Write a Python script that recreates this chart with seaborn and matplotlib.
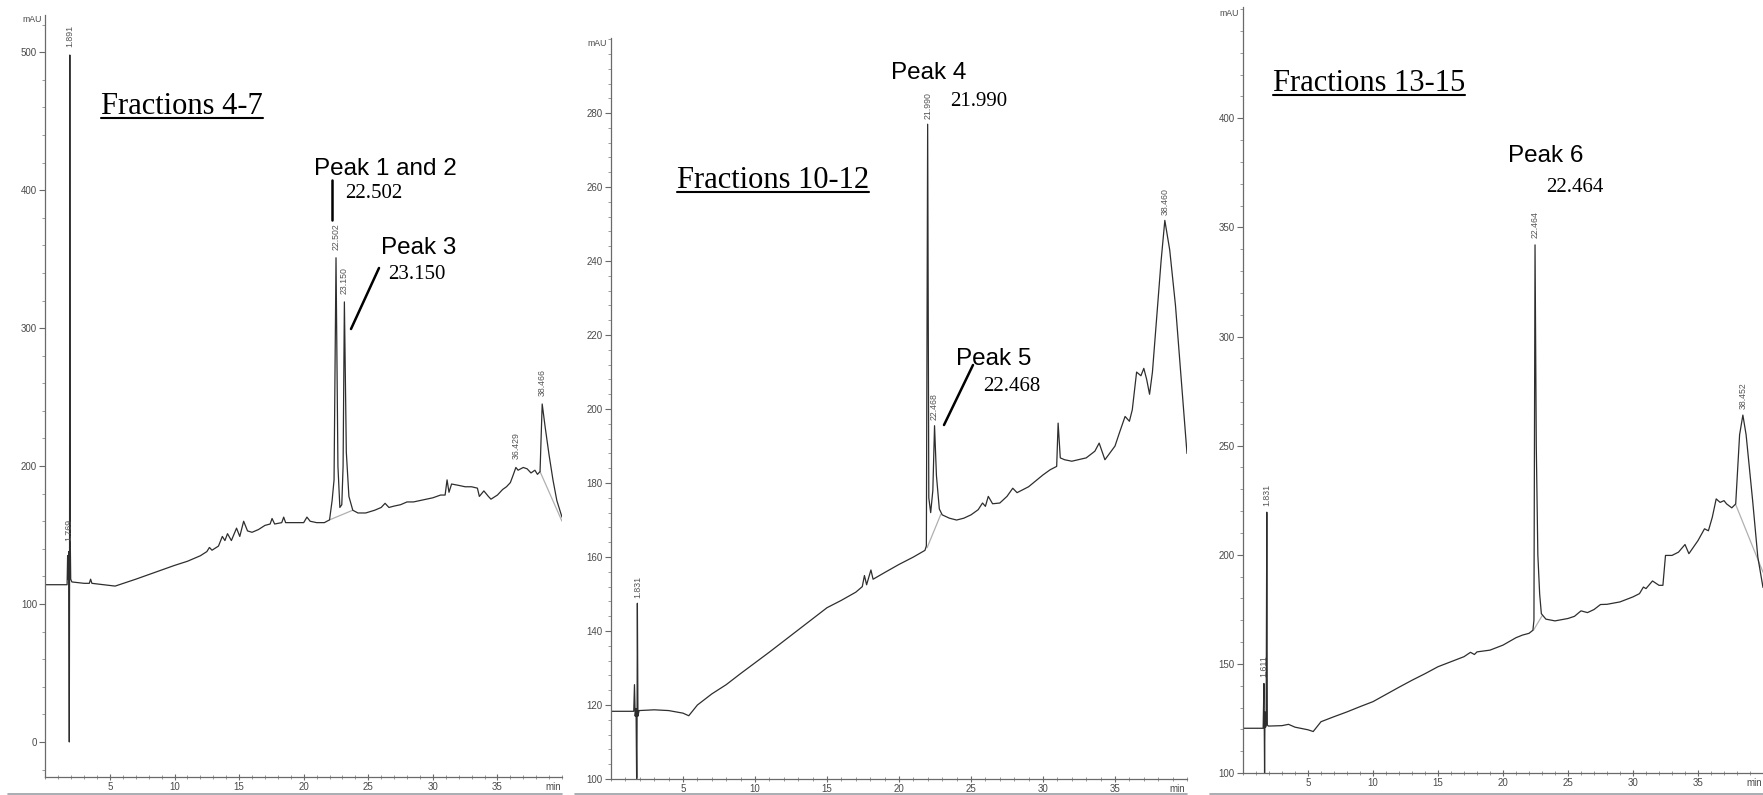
import numpy as np
import pandas as pd
import matplotlib
matplotlib.use("Agg")
import matplotlib.pyplot as plt
import seaborn as sns
from matplotlib.lines import Line2D
from matplotlib.ticker import MultipleLocator, FixedLocator

# ---------------- data ----------------
# Panel 1: Fractions 4-7
t_f47 = [0, 1.68, 1.72, 1.76, 1.80, 1.83, 1.85, 1.87, 1.891, 1.92, 1.96, 2.05, 3.0, 3.4, 3.5, 3.6,
         4.5, 5.4, 7.0, 8.5, 10.0, 11.0, 12.0, 12.5, 12.7, 12.9, 13.4, 13.7, 13.9, 14.1, 14.4,
         14.8, 15.05, 15.35, 15.65, 16.0, 16.5, 17.0, 17.4, 17.55, 17.75, 18.3, 18.45, 18.6,
         19.5, 20.0, 20.25, 20.5, 21.0, 21.6, 22.0, 22.2, 22.35, 22.502, 22.65, 22.8, 22.95,
         23.05, 23.15, 23.3, 23.5, 23.8, 24.2, 24.8, 25.5, 26.0, 26.3, 26.6, 27.0, 27.5, 28.0,
         28.5, 29.0, 29.5, 30.0, 30.6, 30.95, 31.1, 31.25, 31.45, 32.0, 32.5, 33.0, 33.45,
         33.6, 33.95, 34.3, 34.5, 35.0, 35.4, 35.7, 36.0, 36.2, 36.429, 36.6, 37.0, 37.3,
         37.6, 37.9, 38.1, 38.3, 38.466, 38.7, 39.0, 39.3, 39.6, 40.0]
v_f47 = [114, 114, 135, 118, 138, 60, 0, 120, 498, 150, 118, 116, 115, 115, 118, 115,
         114, 113, 118, 123, 128, 131, 135, 138, 141, 139, 142, 149, 146, 151, 146,
         155, 149, 160, 153, 152, 154, 157, 158, 162, 158, 159, 163, 159,
         159, 159, 163, 160, 159, 159, 161, 175, 190, 351, 200, 170, 172,
         200, 319, 210, 178, 168, 166, 166, 168, 170, 173, 170, 171, 172, 174,
         174, 175, 176, 177, 179, 179, 190, 181, 187, 186, 185, 185, 184,
         178, 182, 178, 176, 179, 183, 185, 188, 193, 199, 197, 199, 198,
         195, 197, 194, 196, 245, 228, 208, 190, 175, 163]
base_t_f47 = [22.0, 23.8]
base_v_f47 = [161, 168]
base2_t_f47 = [38.3, 40.0]
base2_v_f47 = [196, 160]
lab_t_f47 = [1.80, 1.891, 22.502, 23.150, 36.429, 38.466]
lab_v_f47 = [140, 498, 351, 319, 199, 245]
lab_s_f47 = ["1.769", "1.891", "22.502", "23.150", "36.429", "38.466"]

# Panel 2: Fractions 10-12
t_f1012 = [0, 1.58, 1.63, 1.68, 1.74, 1.78, 1.80, 1.831, 1.87, 1.95, 3.0, 4.0, 5.0, 5.4, 6.0,
           7.0, 8.0, 9.0, 10.0, 11.0, 12.0, 13.0, 14.0, 15.0, 16.0, 17.0, 17.45, 17.6, 17.75,
           18.05, 18.2, 19.0, 20.0, 21.0, 21.8, 21.9, 21.99, 22.07, 22.2, 22.35, 22.468, 22.6,
           22.8, 23.0, 23.5, 24.0, 24.5, 25.0, 25.5, 25.8, 26.0, 26.2, 26.5, 27.0, 27.5, 27.9,
           28.2, 29.0, 30.0, 30.5, 30.95, 31.05, 31.2, 31.5, 32.0, 33.0, 33.6, 33.9, 34.3,
           35.0, 35.3, 35.7, 36.0, 36.2, 36.5, 36.8, 37.0, 37.2, 37.4, 37.6, 37.9, 38.2,
           38.46, 38.8, 39.2, 39.6, 40.0]
v_f1012 = [118.3, 118.3, 125.5, 117, 119, 100, 100.5, 147.5, 117, 118.5, 118.7, 118.5, 117.8, 117.1, 120,
           123, 125.5, 128.5, 131.4, 134.3, 137.3, 140.3, 143.3, 146.3, 148.3, 150.5, 152, 155, 152.5,
           156.5, 154, 155.8, 158, 160, 161.8, 163, 277, 176, 172, 178, 195.5, 182,
           173, 171.4, 170.5, 170, 170.5, 171.4, 172.8, 174.6, 173.7, 176.4, 174.4, 174.6, 176.4, 178.6,
           177.4, 179, 182.2, 183.6, 184.5, 196.2, 186.8, 186.3, 185.9, 186.8, 188.6, 190.8, 186.3,
           190, 193.5, 198, 196.7, 199.8, 210, 209, 211, 208, 204, 210, 225, 240,
           251, 243, 228, 208, 188]
base_t_f1012 = [21.95, 22.9]
base_v_f1012 = [162.5, 171.5]
lab_t_f1012 = [1.831, 21.990, 22.468, 38.460]
lab_v_f1012 = [147.5, 277, 195.5, 251]
lab_s_f1012 = ["1.831", "21.990", "22.468", "38.460"]

# Panel 3: Fractions 13-15
t_f1315 = [0, 1.55, 1.611, 1.64, 1.66, 1.69, 1.74, 1.78, 1.831, 1.87, 1.95, 3.0, 3.5, 4.0, 5.0,
           5.4, 6.0, 7.0, 8.0, 9.0, 10.0, 11.0, 12.0, 13.0, 14.0, 15.0, 16.0, 17.0, 17.5, 17.8,
           18.0, 19.0, 20.0, 21.0, 21.5, 22.0, 22.3, 22.38, 22.464, 22.56, 22.68, 22.82, 22.95,
           23.3, 24.0, 25.0, 25.5, 26.0, 26.5, 27.0, 27.5, 28.0, 29.0, 30.0, 30.5, 30.8, 31.0,
           31.5, 32.0, 32.3, 32.5, 33.0, 33.5, 34.0, 34.3, 35.0, 35.5, 35.8, 36.1, 36.4, 36.7,
           37.0, 37.2, 37.6, 37.9, 38.2, 38.452, 38.7, 39.2, 39.6, 40.0]
v_f1315 = [120.5, 120.5, 141, 118, 100, 128, 121, 122, 219.5, 122, 121.5, 121.7, 122.3, 121, 119.8,
           119, 123.5, 125.8, 128, 130.4, 132.7, 136, 139.3, 142.5, 145.5, 148.7, 151, 153.3, 155.3, 154.3,
           155.5, 156.3, 158.6, 162, 163.2, 164, 165.4, 170, 342, 250, 200, 182, 173,
           170.5, 169.7, 170.8, 171.8, 174.3, 173.5, 174.9, 177.2, 177.3, 178.4, 180.7, 182.2, 185.2, 184.5,
           188, 186, 186, 199.7, 199.7, 201.2, 204.7, 200.5, 206.5, 211.9, 211, 217.2, 225.6, 224,
           224.8, 223.3, 221.5, 223.3, 255, 264, 255, 225, 199, 185]
base_t_f1315 = [22.35, 23.0]
base_v_f1315 = [165.5, 172]
base2_t_f1315 = [37.9, 40.0]
base2_v_f1315 = [223, 192]
lab_t_f1315 = [1.611, 1.831, 22.464, 38.452]
lab_v_f1315 = [141, 219.5, 342, 264]
lab_s_f1315 = ["1.611", "1.831", "22.464", "38.452"]

x_ticks = [5, 10, 15, 20, 25, 30, 35]
y_ticks_f47 = [0, 100, 200, 300, 400, 500]
y_ticks_f1012 = [100, 120, 140, 160, 180, 200, 220, 240, 260, 280]
y_ticks_f1315 = [100, 150, 200, 250, 300, 350, 400]

titles = ["Fractions 4-7", "Fractions 10-12", "Fractions 13-15"]

# ---------------- figure ----------------
W, H = 1763, 795
sns.set_theme(style="white")
plt.rcParams['font.family'] = ['Liberation Sans', 'DejaVu Sans']

fig = plt.figure(figsize=(W / 100, H / 100), dpi=100)
fig.patch.set_facecolor("white")


def rect(l, r, t, b):
    return [l / W, 1 - b / H, (r - l) / W, (b - t) / H]


def fx(px):
    return px / W


def fy(py):
    return 1 - py / H


panels = [
    dict(rect=rect(45.4, 562, 15, 777), ylim=(-25.4, 527), yt=y_ticks_f47, ymin=20,
         t=t_f47, v=v_f47, bases=[(base_t_f47, base_v_f47), (base2_t_f47, base2_v_f47)],
         lt=lab_t_f47, lv=lab_v_f47, ls=lab_s_f47, mau_y=20, lab_off=6),
    dict(rect=rect(611, 1187, 38, 779), ylim=(100, 300.3), yt=y_ticks_f1012, ymin=4,
         t=t_f1012, v=v_f1012, bases=[(base_t_f1012, base_v_f1012)],
         lt=lab_t_f1012, lv=lab_v_f1012, ls=lab_s_f1012, mau_y=43, lab_off=1.5),
    dict(rect=rect(1243, 1763, 7, 773), ylim=(100, 451), yt=y_ticks_f1315, ymin=10,
         t=t_f1315, v=v_f1315, bases=[(base_t_f1315, base_v_f1315), (base2_t_f1315, base2_v_f1315)],
         lt=lab_t_f1315, lv=lab_v_f1315, ls=lab_s_f1315, mau_y=13, lab_off=3),
]

tick_col = "#4a4a4a"
for p in panels:
    ax = fig.add_axes(p["rect"])
    ax.set_facecolor("none")
    df = pd.DataFrame({"time": p["t"], "mAU": p["v"]})
    for bt, bv in p["bases"]:
        dfb = pd.DataFrame({"time": bt, "mAU": bv})
        sns.lineplot(data=dfb, x="time", y="mAU", ax=ax, color="#b0b0b0", lw=0.9,
                     estimator=None, sort=False)
    sns.lineplot(data=df, x="time", y="mAU", ax=ax, color="#2e2e2e", lw=0.9,
                 estimator=None, sort=False)
    ax.set_xlim(0, 40)
    ax.set_ylim(*p["ylim"])
    ax.set_xlabel("")
    ax.set_ylabel("")
    for s in ["top", "right"]:
        ax.spines[s].set_visible(False)
    for s in ["left", "bottom"]:
        ax.spines[s].set_color("#6a6a6a")
        ax.spines[s].set_linewidth(0.9)
    ax.xaxis.set_major_locator(FixedLocator(x_ticks))
    ax.xaxis.set_minor_locator(MultipleLocator(1))
    ax.yaxis.set_major_locator(FixedLocator(p["yt"]))
    ax.yaxis.set_minor_locator(MultipleLocator(p["ymin"]))
    ax.tick_params(axis="y", which="major", direction="out", length=4, width=0.8,
                   color="#6a6a6a", labelsize=7, labelcolor=tick_col, pad=2, left=True)
    ax.tick_params(axis="y", which="minor", direction="out", length=2, width=0.6,
                   color="#8a8a8a", left=True)
    ax.tick_params(axis="x", which="major", direction="inout", length=4, width=0.8,
                   color="#6a6a6a", labelsize=7, labelcolor=tick_col, pad=1.5, bottom=True)
    ax.tick_params(axis="x", which="minor", direction="inout", length=2.5, width=0.6,
                   color="#8a8a8a", bottom=True)
    ax.grid(False)
    # "min" label at end of x axis, level with the tick labels
    ax.annotate("min", xy=(39.3, 0), xycoords=("data", "axes fraction"),
                xytext=(0, -3.5), textcoords="offset points", ha="center", va="top",
                fontsize=7, color=tick_col, annotation_clip=False)
    # rotated retention-time labels
    for tt, vv, ss in zip(p["lt"], p["lv"], p["ls"]):
        ax.text(tt, vv + p["lab_off"], ss, rotation=90, ha="center", va="bottom",
                fontsize=6.3, color="#555555", clip_on=False)
    # mAU label
    l, b, w, h = p["rect"]
    fig.text(l - 4 / W, fy(p["mau_y"]), "mAU", ha="right", va="center",
             fontsize=6.3, color=tick_col)

# ---------------- annotations ----------------
serif = ["Liberation Serif", "DejaVu Serif"]
sans = ["Liberation Sans", "DejaVu Sans"]

title_specs = [(101, 114, titles[0]), (677, 188, titles[1]), (1273, 91, titles[2])]
title_texts = []
for x, y, s in title_specs:
    tx = fig.text(fx(x), fy(y), s, family=serif, fontsize=22, color="black",
                  ha="left", va="baseline")
    title_texts.append((tx, y))

peak_specs = [
    (314, 175, "Peak 1 and 2", sans, 17.5),
    (345, 198, "22.502", serif, 15),
    (381, 254, "Peak 3", sans, 17.5),
    (388, 279, "23.150", serif, 15),
    (891, 79, "Peak 4", sans, 17.5),
    (950, 106, "21.990", serif, 15),
    (956, 365, "Peak 5", sans, 17.5),
    (983, 391, "22.468", serif, 15),
    (1508, 162, "Peak 6", sans, 17.5),
    (1546, 192, "22.464", serif, 15),
]
for x, y, s, fam, fs in peak_specs:
    fig.text(fx(x), fy(y), s, family=fam, fontsize=fs, color="black", ha="left", va="baseline")

pointer_lines = [((332, 180), (332, 220)), ((379, 268), (351, 329)), ((973, 365), (944, 425))]
for (x1, y1), (x2, y2) in pointer_lines:
    fig.add_artist(Line2D([fx(x1), fx(x2)], [fy(y1), fy(y2)], transform=fig.transFigure,
                          color="black", lw=1.8))

# underline the fraction titles
fig.canvas.draw()
renderer = fig.canvas.get_renderer()
for tx, y in title_texts:
    bb = tx.get_window_extent(renderer)
    fig.add_artist(Line2D([bb.x0 / W, bb.x1 / W], [fy(y + 4), fy(y + 4)],
                          transform=fig.transFigure, color="black", lw=1.5))

# faint scan edge lines at the bottom
for x1, x2 in [(8, 562), (575, 1187), (1210, 1763)]:
    fig.add_artist(Line2D([fx(x1), fx(x2)], [fy(794), fy(794)], transform=fig.transFigure,
                          color="#9aa0a8", lw=1.2))

fig.savefig("out.png", dpi=100, facecolor="white")
